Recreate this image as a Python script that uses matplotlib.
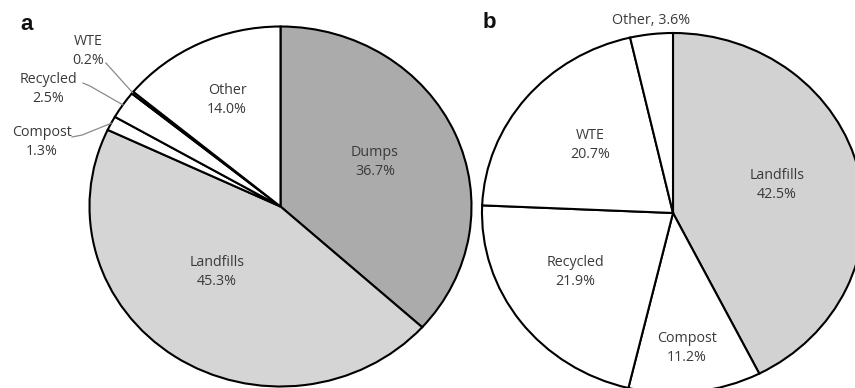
import numpy as np
import matplotlib
matplotlib.use("Agg")
import matplotlib.pyplot as plt

# ---- data ----
a_labels = ["Dumps", "Landfills", "Compost", "Recycled", "WTE", "Other"]
a_values = [36.7, 45.3, 1.3, 2.5, 0.2, 14.0]
a_colors = ["#ababab", "#d5d5d5", "#ffffff", "#ffffff", "#ffffff", "#ffffff"]

b_labels = ["Landfills", "Compost", "Recycled", "WTE", "Other"]
b_values = [42.5, 11.2, 21.9, 20.7, 3.6]
b_colors = ["#d2d2d2", "#ffffff", "#ffffff", "#ffffff", "#ffffff"]

TXT = "#3a3a3a"
FONT = "Open Sans"
FS = 10.3
LS = 1.4

W, H = 855, 388
fig = plt.figure(figsize=(W / 100, H / 100), dpi=100)
fig.patch.set_facecolor("white")

def make_ax(cx, cy, rx, ry):
    ax = fig.add_axes([(cx - rx) / W, 1 - (cy + ry) / H, 2 * rx / W, 2 * ry / H])
    return ax

def draw_pie(ax, values, colors):
    wedges, _ = ax.pie(values, colors=colors, startangle=90, counterclock=False,
                       radius=1.0, wedgeprops=dict(edgecolor="black", linewidth=1.5))
    for w in wedges:
        w.set_clip_on(False)
    ax.set_aspect("auto")
    ax.set_xlim(-1, 1)
    ax.set_ylim(-1, 1)
    ax.axis("off")
    return wedges

def mid_angle(values, i):
    cum = np.cumsum([0] + list(values))
    frac = (cum[i] + values[i] / 2) / cum[-1]
    return np.deg2rad(90 - frac * 360)

# ---- pie a ----
axa = make_ax(280.5, 206.5, 191, 180)
draw_pie(axa, a_values, a_colors)

a_text_pos = {
    "Dumps": (0.495, 0.247),
    "Landfills": (-0.332, -0.364),
    "Other": (-0.280, 0.592),
    "WTE": (-1.008, 0.864),
    "Recycled": (-1.217, 0.653),
    "Compost": (-1.249, 0.358),
}
for lab, val in zip(a_labels, a_values):
    x, y = a_text_pos[lab]
    axa.text(x, y, f"{lab}\n{val:.1f}%", ha="center", va="center", fontsize=FS,
             color=TXT, family=FONT, linespacing=LS, clip_on=False)

# leader lines for small slices
leader_pts = {
    "WTE": [(-0.914, 0.797)],
    "Recycled": [(-1.034, 0.686), (-0.997, 0.669)],
    "Compost": [(-1.092, 0.386), (-1.039, 0.397)],
}
for lab, pts in leader_pts.items():
    i = a_labels.index(lab)
    ang = mid_angle(a_values, i)
    end = (np.cos(ang), np.sin(ang))
    xs = [p[0] for p in pts] + [end[0]]
    ys = [p[1] for p in pts] + [end[1]]
    axa.plot(xs, ys, color="#8a8a8a", lw=0.9, clip_on=False, zorder=5)

# ---- pie b ----
axb = make_ax(673, 213, 191, 180)
draw_pie(axb, b_values, b_colors)

b_text_pos = {
    "Landfills": (0.545, 0.156),
    "WTE": (-0.435, 0.378),
    "Recycled": (-0.513, -0.328),
    "Compost": (0.073, -0.750),
}
for lab, val in zip(b_labels, b_values):
    if lab == "Other":
        axb.text(-0.115, 1.067, f"{lab}, {val:.1f}%", ha="center", va="center",
                 fontsize=FS, color=TXT, family=FONT, clip_on=False)
        continue
    x, y = b_text_pos[lab]
    axb.text(x, y, f"{lab}\n{val:.1f}%", ha="center", va="center", fontsize=FS,
             color=TXT, family=FONT, linespacing=LS, clip_on=False)

# panel letters
fig.text(27 / W, 1 - 24 / H, "a", fontsize=16, fontweight="bold", family="Liberation Sans",
         ha="center", va="center", color="#111111")
fig.text(489 / W, 1 - 22 / H, "b", fontsize=16, fontweight="bold", family="Liberation Sans",
         ha="center", va="center", color="#111111")

fig.savefig("out.png", dpi=100, facecolor="white")
